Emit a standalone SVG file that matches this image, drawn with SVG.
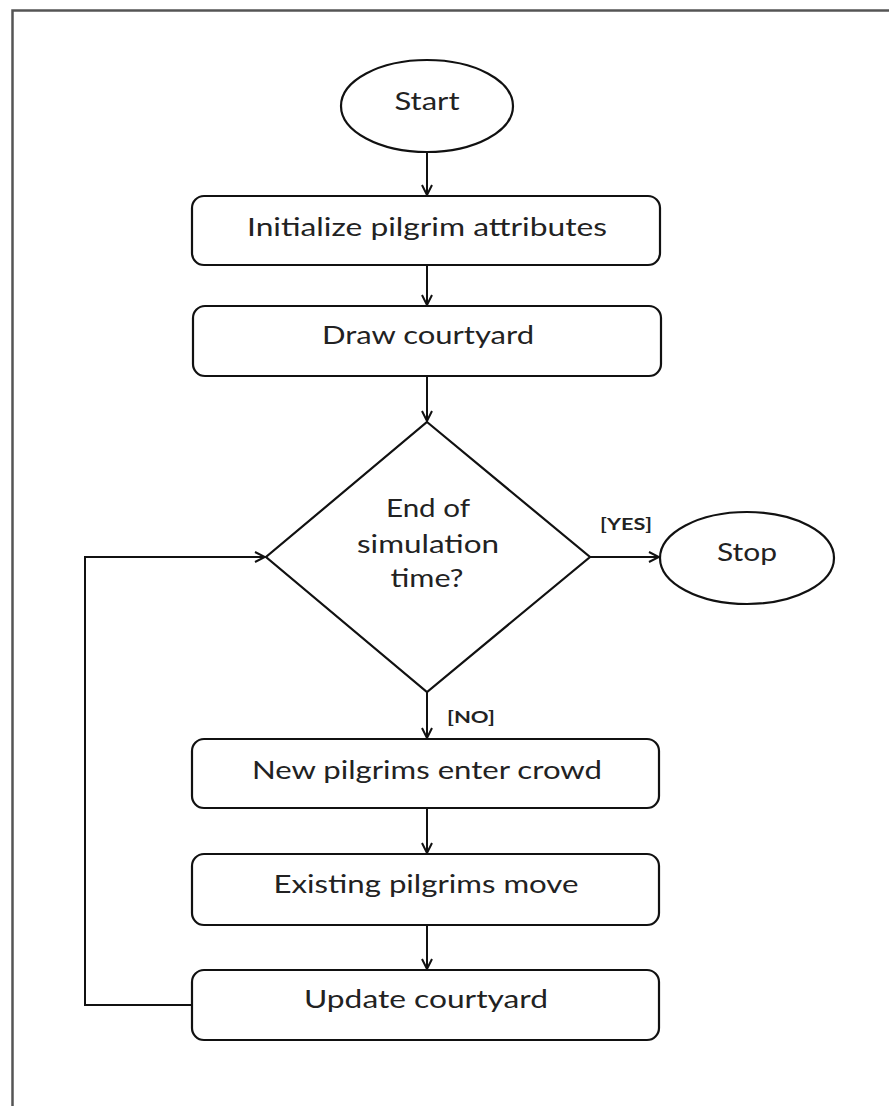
<svg xmlns="http://www.w3.org/2000/svg" width="889" height="1106" viewBox="0 0 889 1106">
<defs>
<marker id="arr" viewBox="0 0 12 12" refX="11" refY="6" markerWidth="12" markerHeight="12" markerUnits="userSpaceOnUse" orient="auto">
<path d="M1,1 L11,6 L1,11" fill="none" stroke="#111" stroke-width="2"/>
</marker>
<style>
.shape{fill:#fff;stroke:#111;stroke-width:2.2}
.t{font-family:Lato,"Open Sans","Liberation Sans",sans-serif;font-size:25px;fill:#222;text-anchor:middle}
.lb{font-family:Lato,"Open Sans","Liberation Sans",sans-serif;font-size:17px;font-weight:bold;fill:#222;text-anchor:middle}
.c{fill:none;stroke:#111;stroke-width:2}
.frame{fill:none;stroke:#555;stroke-width:2.5}
</style>
</defs>
<rect width="889" height="1106" fill="#fff"/>
<path class="frame" d="M12.5,1106 L12.5,10.5 L889,10.5"/>
<g id="start">
<ellipse class="shape" cx="427" cy="106" rx="86" ry="46"/>
<text class="t" x="427" y="110" textLength="65" lengthAdjust="spacingAndGlyphs">Start</text>
</g>
<g id="init">
<rect class="shape" x="192" y="196" width="468" height="69" rx="12"/>
<text class="t" x="427" y="236" textLength="360" lengthAdjust="spacingAndGlyphs">Initialize pilgrim attributes</text>
</g>
<g id="draw">
<rect class="shape" x="193" y="306" width="468" height="70" rx="12"/>
<text class="t" x="428" y="344" textLength="212" lengthAdjust="spacingAndGlyphs">Draw courtyard</text>
</g>
<g id="decision">
<polygon class="shape" points="427,422 590,557 427,692 266,557"/>
<text class="t" x="428" y="517" textLength="84" lengthAdjust="spacingAndGlyphs">End of</text>
<text class="t" x="428" y="553" textLength="142" lengthAdjust="spacingAndGlyphs">simulation</text>
<text class="t" x="427" y="587" textLength="73" lengthAdjust="spacingAndGlyphs">time?</text>
</g>
<g id="stop">
<ellipse class="shape" cx="747" cy="558" rx="87" ry="46"/>
<text class="t" x="747" y="561" textLength="60" lengthAdjust="spacingAndGlyphs">Stop</text>
</g>
<g id="newpilgrims">
<rect class="shape" x="192" y="739" width="467" height="69" rx="12"/>
<text class="t" x="427" y="779" textLength="350" lengthAdjust="spacingAndGlyphs">New pilgrims enter crowd</text>
</g>
<g id="move">
<rect class="shape" x="192" y="854" width="467" height="71" rx="12"/>
<text class="t" x="426" y="893" textLength="305" lengthAdjust="spacingAndGlyphs">Existing pilgrims move</text>
</g>
<g id="update">
<rect class="shape" x="192" y="970" width="467" height="70" rx="12"/>
<text class="t" x="426" y="1008" textLength="244" lengthAdjust="spacingAndGlyphs">Update courtyard</text>
</g>
<g id="connectors">
<line class="c" x1="427" y1="152" x2="427" y2="195" marker-end="url(#arr)"/>
<line class="c" x1="427" y1="265" x2="427" y2="305" marker-end="url(#arr)"/>
<line class="c" x1="427" y1="376" x2="427" y2="421" marker-end="url(#arr)"/>
<line class="c" x1="590" y1="557" x2="659" y2="557" marker-end="url(#arr)"/>
<line class="c" x1="427" y1="692" x2="427" y2="738" marker-end="url(#arr)"/>
<line class="c" x1="427" y1="808" x2="427" y2="853" marker-end="url(#arr)"/>
<line class="c" x1="427" y1="925" x2="427" y2="969" marker-end="url(#arr)"/>
<polyline class="c" points="192,1005 85,1005 85,557 265,557" marker-end="url(#arr)"/>
<text class="lb" x="626" y="530" textLength="52" lengthAdjust="spacingAndGlyphs">[YES]</text>
<text class="lb" x="471" y="723" textLength="48" lengthAdjust="spacingAndGlyphs">[NO]</text>
</g>
</svg>
